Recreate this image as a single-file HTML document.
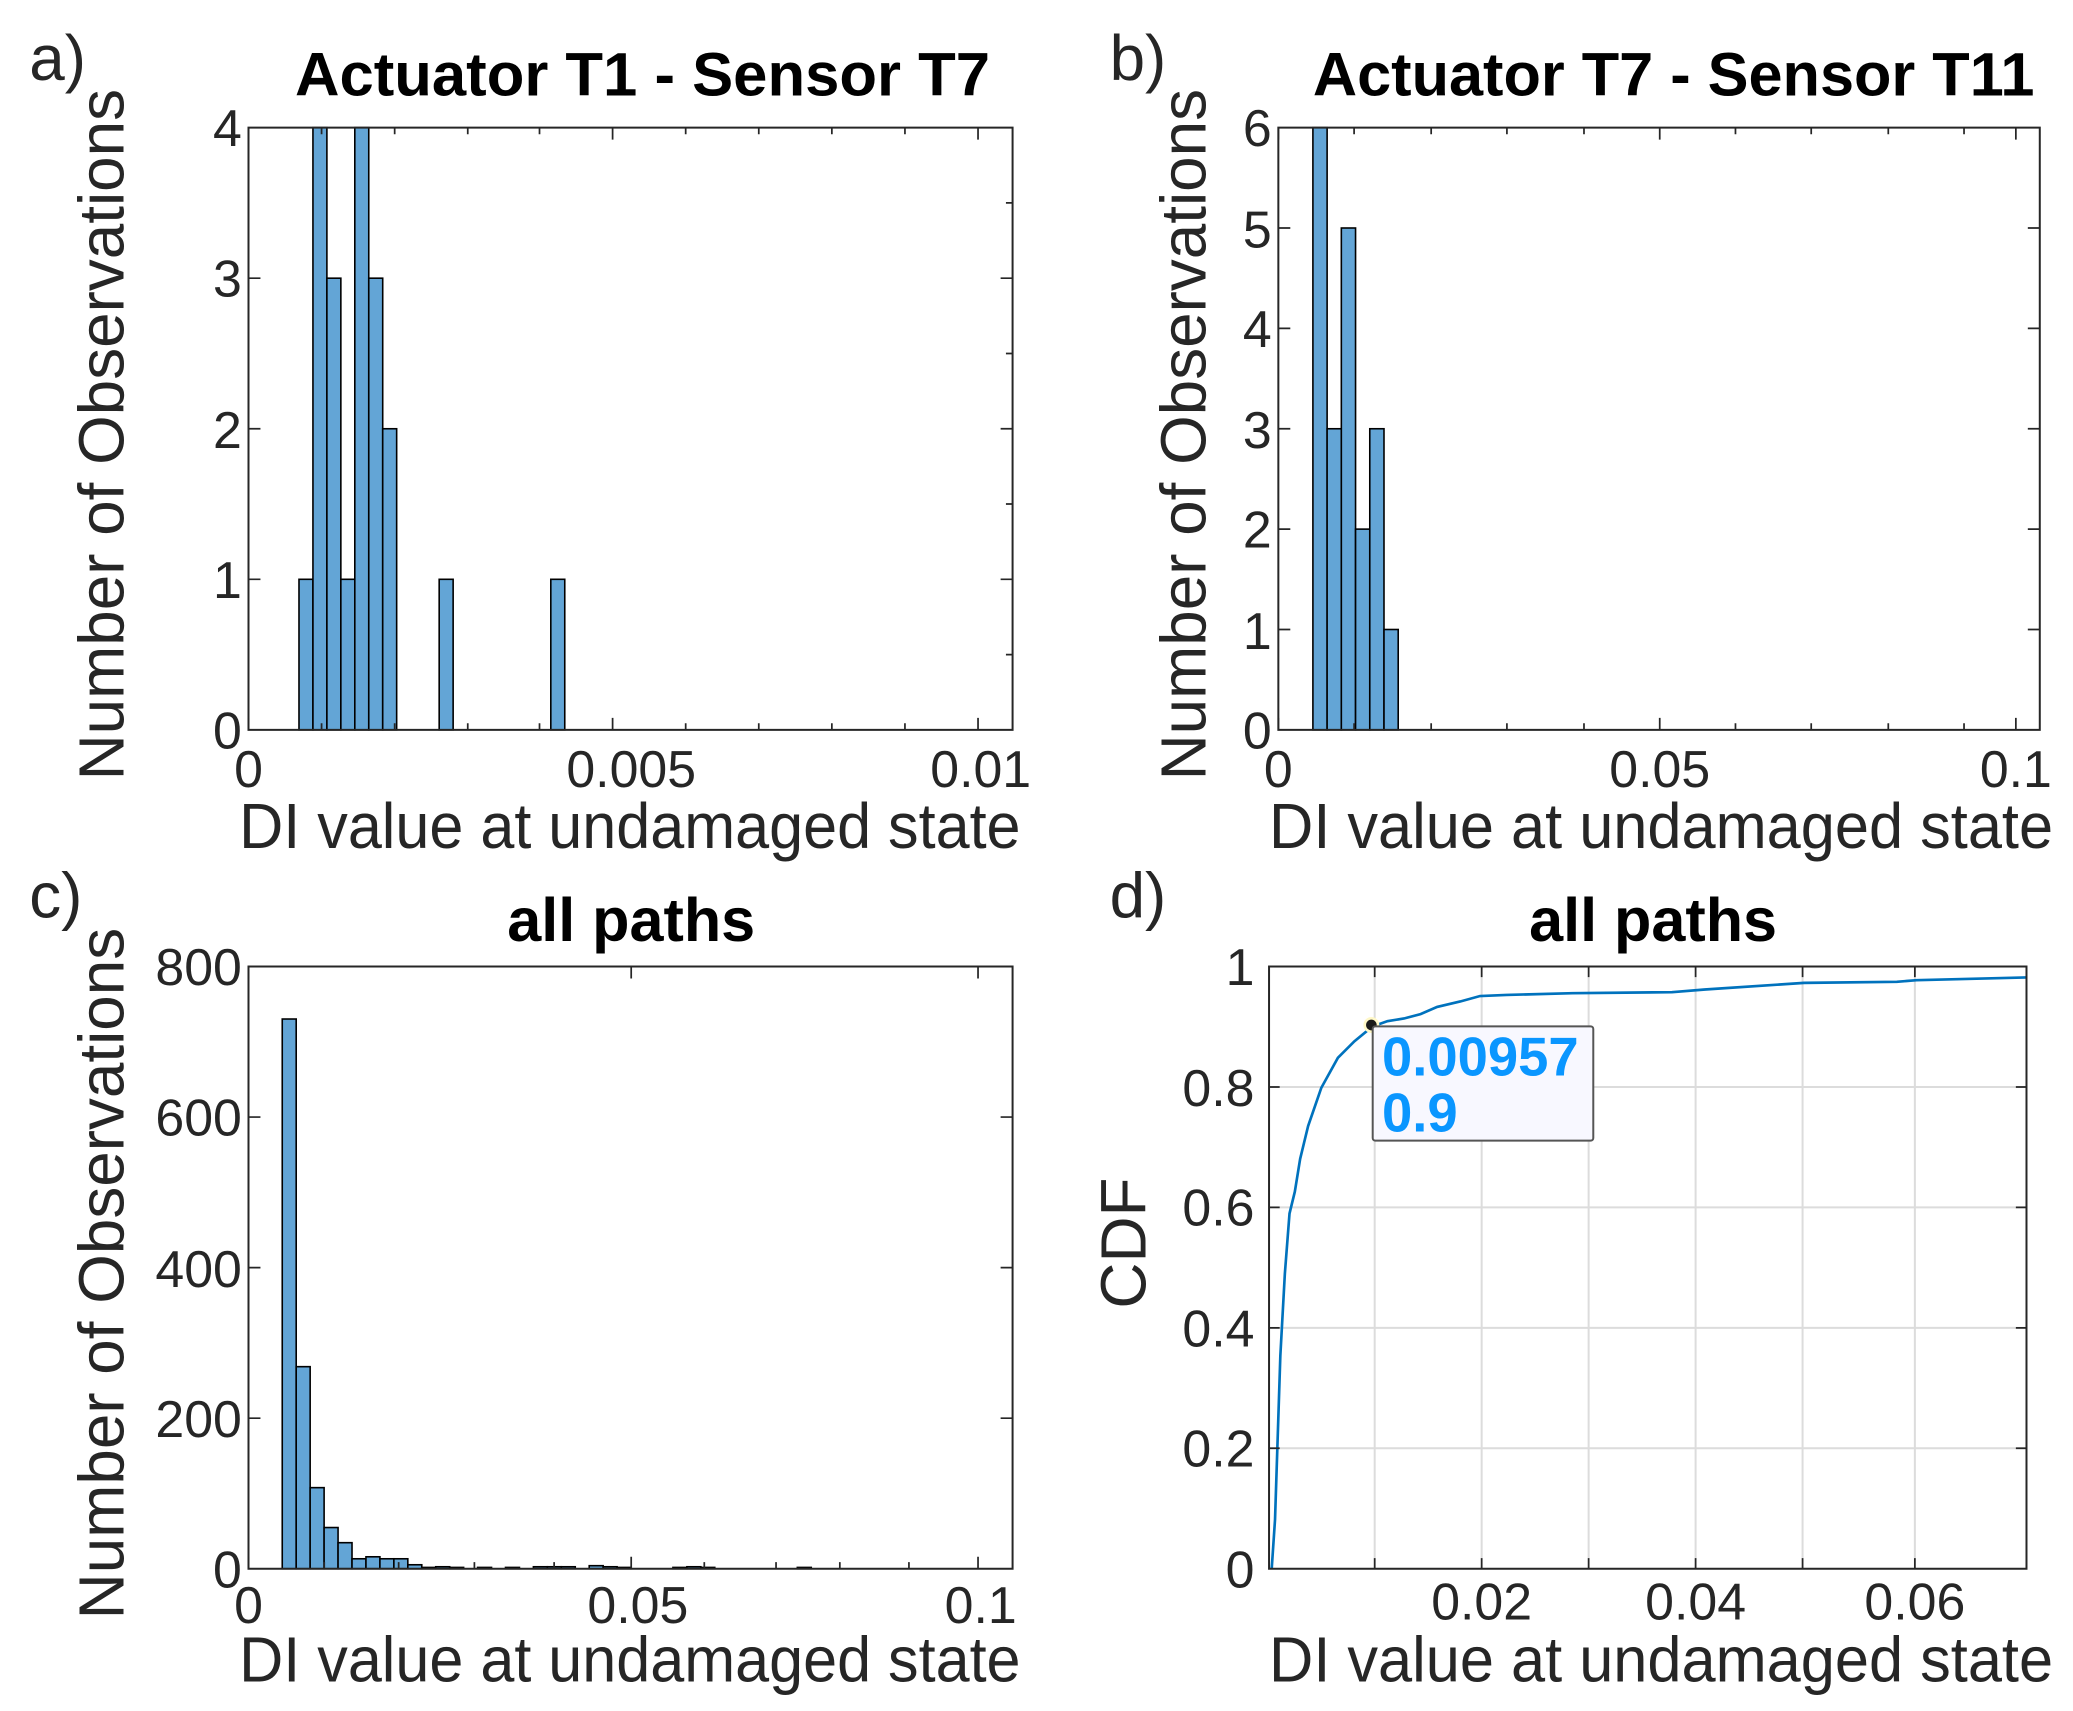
<!DOCTYPE html>
<html><head><meta charset="utf-8"><style>
html,body{margin:0;padding:0;background:#fff}
svg{display:block}
text{font-family:"Liberation Sans",sans-serif;fill:#262626}
.t{font-size:39px}
.l{font-size:48px}
.h{font-size:46px;font-weight:bold;fill:#000}
.bar{fill:#63a5d6;stroke:#000;stroke-width:1.2}
.ax{fill:none;stroke:#262626;stroke-width:1.5}
.tk{stroke:#262626;stroke-width:1.3}
.gr{stroke:#dcdcdc;stroke-width:1.5}
</style></head><body>
<svg width="2073" height="1711" viewBox="0 0 1560 1287" preserveAspectRatio="none" xmlns="http://www.w3.org/2000/svg">
<!-- Panel a -->
<text x="22" y="60" class="l">a)</text>
<text x="222" y="72" class="h" textLength="523" lengthAdjust="spacingAndGlyphs">Actuator T1 - Sensor T7</text>
<g class="bar">
<rect x="225" y="435.75" width="10.5" height="113.25"/>
<rect x="235.5" y="96" width="10.5" height="453"/>
<rect x="246" y="209.25" width="10.5" height="339.75"/>
<rect x="256.5" y="435.75" width="10.5" height="113.25"/>
<rect x="267" y="96" width="10.5" height="453"/>
<rect x="277.5" y="209.25" width="10.5" height="339.75"/>
<rect x="288" y="322.5" width="10.5" height="226.5"/>
<rect x="330.5" y="435.75" width="10.5" height="113.25"/>
<rect x="414.5" y="435.75" width="10.5" height="113.25"/>
</g>
<rect x="187" y="96" width="575" height="453" class="ax"/>
<g class="tk">
<path d="M187,549v-9M461,549v-9M736,549v-9M187,96v9M461,96v9M736,96v9"/>
<path d="M242,549v-5M297,549v-5M352,549v-5M406,549v-5M516,549v-5M571,549v-5M626,549v-5M681,549v-5M242,96v5M297,96v5M352,96v5M406,96v5M516,96v5M571,96v5M626,96v5M681,96v5"/>
<path d="M187,435.75h9M187,322.5h9M187,209.25h9M762,435.75h-9M762,322.5h-9M762,209.25h-9M762,492.4h-5M762,379.1h-5M762,265.9h-5M762,152.6h-5"/>
</g>
<g class="t" text-anchor="end">
<text x="182" y="563">0</text><text x="182" y="450">1</text><text x="182" y="337">2</text><text x="182" y="223">3</text><text x="182" y="110">4</text>
</g>
<g class="t" text-anchor="middle">
<text x="187" y="592">0</text><text x="475" y="592">0.005</text><text x="738" y="592">0.01</text>
</g>
<text x="180" y="638" class="l" textLength="588" lengthAdjust="spacingAndGlyphs">DI value at undamaged state</text>
<text transform="translate(93,327) rotate(-90)" class="l" text-anchor="middle">Number of Observations</text>

<!-- Panel b -->
<text x="835" y="60" class="l">b)</text>
<text x="988" y="72" class="h" textLength="543" lengthAdjust="spacingAndGlyphs">Actuator T7 - Sensor T11</text>
<g class="bar">
<rect x="988" y="96" width="10.7" height="453"/>
<rect x="998.7" y="322.5" width="10.7" height="226.5"/>
<rect x="1009.4" y="171.5" width="10.7" height="377.5"/>
<rect x="1020.1" y="398" width="10.7" height="151"/>
<rect x="1030.8" y="322.5" width="10.7" height="226.5"/>
<rect x="1041.5" y="473.5" width="10.7" height="75.5"/>
</g>
<rect x="962" y="96" width="573" height="453" class="ax"/>
<g class="tk">
<path d="M962,549v-9M1249,549v-9M1517,549v-9M962,96v9M1249,96v9M1517,96v9"/>
<path d="M1019,549v-5M1077,549v-5M1134,549v-5M1192,549v-5M1306,549v-5M1363,549v-5M1421,549v-5M1478,549v-5M1019,96v5M1077,96v5M1134,96v5M1192,96v5M1306,96v5M1363,96v5M1421,96v5M1478,96v5"/>
<path d="M962,473.5h9M962,398h9M962,322.5h9M962,247h9M962,171.5h9M1535,473.5h-9M1535,398h-9M1535,322.5h-9M1535,247h-9M1535,171.5h-9"/>
</g>
<g class="t" text-anchor="end">
<text x="957" y="563">0</text><text x="957" y="488">1</text><text x="957" y="412">2</text><text x="957" y="337">3</text><text x="957" y="261">4</text><text x="957" y="186">5</text><text x="957" y="110">6</text>
</g>
<g class="t" text-anchor="middle">
<text x="962" y="592">0</text><text x="1249" y="592">0.05</text><text x="1517" y="592">0.1</text>
</g>
<text x="955" y="638" class="l" textLength="590" lengthAdjust="spacingAndGlyphs">DI value at undamaged state</text>
<text transform="translate(907,327) rotate(-90)" class="l" text-anchor="middle">Number of Observations</text>

<!-- Panel c -->
<text x="22" y="690" class="l">c)</text>
<text x="475" y="708" class="h" text-anchor="middle">all paths</text>
<g class="bar">
<rect x="212.4" y="766.5" width="10.5" height="413.5"/>
<rect x="222.9" y="1028" width="10.5" height="152"/>
<rect x="233.4" y="1119" width="10.5" height="61"/>
<rect x="243.9" y="1149" width="10.5" height="31"/>
<rect x="254.4" y="1160.4" width="10.5" height="19.6"/>
<rect x="264.9" y="1172.5" width="10.5" height="7.5"/>
<rect x="275.4" y="1171" width="10.5" height="9"/>
<rect x="285.9" y="1172.5" width="10.5" height="7.5"/>
<rect x="296.4" y="1172.5" width="10.5" height="7.5"/>
<rect x="306.9" y="1177" width="10.5" height="3"/>
<rect x="317.4" y="1179" width="10.5" height="1"/>
<rect x="327.9" y="1178.5" width="10.5" height="1.5"/>
<rect x="338.4" y="1179" width="10.5" height="1"/>
<rect x="359.4" y="1179" width="10.5" height="1"/>
<rect x="380.4" y="1179" width="10.5" height="1"/>
<rect x="401.4" y="1178.5" width="10.5" height="1.5"/>
<rect x="411.9" y="1178.5" width="10.5" height="1.5"/>
<rect x="422.4" y="1178.5" width="10.5" height="1.5"/>
<rect x="443.4" y="1177.7" width="10.5" height="2.3"/>
<rect x="453.9" y="1178.5" width="10.5" height="1.5"/>
<rect x="464.4" y="1179" width="10.5" height="1"/>
<rect x="506.4" y="1179" width="10.5" height="1"/>
<rect x="516.9" y="1178.5" width="10.5" height="1.5"/>
<rect x="527.4" y="1179" width="10.5" height="1"/>
<rect x="600" y="1179" width="10.5" height="1"/>
</g>
<rect x="187" y="727" width="575" height="453" class="ax"/>
<g class="tk">
<path d="M187,1180v-9M475,1180v-9M736,1180v-9M187,727v9M475,727v9M736,727v9"/>
<path d="M244,1180v-5M300,1180v-5M357,1180v-5M417,1180v-5M530,1180v-5M584,1180v-5M632,1180v-5M684,1180v-5"/>
<path d="M187,1066.75h9M187,953.5h9M187,840.25h9M762,1066.75h-9M762,953.5h-9M762,840.25h-9"/>
</g>
<g class="t" text-anchor="end">
<text x="182" y="1194">0</text><text x="182" y="1081">200</text><text x="182" y="968">400</text><text x="182" y="854">600</text><text x="182" y="741">800</text>
</g>
<g class="t" text-anchor="middle">
<text x="187" y="1221">0</text><text x="480" y="1221">0.05</text><text x="738" y="1221">0.1</text>
</g>
<text x="180" y="1265" class="l" textLength="588" lengthAdjust="spacingAndGlyphs">DI value at undamaged state</text>
<text transform="translate(93,958) rotate(-90)" class="l" text-anchor="middle">Number of Observations</text>

<!-- Panel d -->
<text x="835" y="690" class="l">d)</text>
<text x="1244" y="708" class="h" text-anchor="middle">all paths</text>
<g class="gr">
<path d="M1034.5,727V1180M1115,727V1180M1195.5,727V1180M1276,727V1180M1356.5,727V1180M1441,727V1180"/>
<path d="M955,1089.4H1525M955,998.8H1525M955,908.2H1525M955,817.6H1525"/>
</g>
<polyline fill="none" stroke="#0072bd" stroke-width="2" points="957,1180 959.5,1143 963.5,1019.7 966.9,958 970.4,912.8 974.4,896.4 978.4,871.7 984.4,847 994.3,818.3 1006.8,795.7 1019.2,783.3 1032.7,772.2 1044.1,768.1 1056.6,766.1 1069,762.8 1081.5,757.4 1098.9,753.3 1113.8,749.2 1133.7,748.4 1183.5,747.1 1258.2,746.3 1283,744.3 1357.7,739.3 1427.4,738.5 1442.3,737.3 1525,735.2"/>
<rect x="955" y="727" width="570" height="453" class="ax"/>
<g class="tk">
<path d="M1034.5,1180v-8M1115,1180v-8M1195.5,1180v-8M1276,1180v-8M1356.5,1180v-8M1441,1180v-8M1034.5,727v8M1115,727v8M1195.5,727v8M1276,727v8M1356.5,727v8M1441,727v8"/>
<path d="M955,1089.4h8M955,998.8h8M955,908.2h8M955,817.6h8M1525,1089.4h-8M1525,998.8h-8M1525,908.2h-8M1525,817.6h-8"/>
</g>
<circle cx="1032" cy="771" r="6" fill="#fff8c8"/>
<circle cx="1032" cy="771" r="4" fill="#1a1a1a"/>
<rect x="1033" y="772" width="166" height="86" rx="2" fill="#f8f8ff" stroke="#555" stroke-width="1.5"/>
<text x="1040" y="809" textLength="148" lengthAdjust="spacingAndGlyphs" style="font-size:41px;font-weight:bold;fill:#0a96ff">0.00957</text>
<text x="1040" y="851" style="font-size:41px;font-weight:bold;fill:#0a96ff">0.9</text>
<g class="t" text-anchor="end">
<text x="944" y="1194">0</text><text x="944" y="1103">0.2</text><text x="944" y="1013">0.4</text><text x="944" y="922">0.6</text><text x="944" y="832">0.8</text><text x="944" y="741">1</text>
</g>
<g class="t" text-anchor="middle">
<text x="1115" y="1218">0.02</text><text x="1276" y="1218">0.04</text><text x="1441" y="1218">0.06</text>
</g>
<text x="955" y="1265" class="l" textLength="590" lengthAdjust="spacingAndGlyphs">DI value at undamaged state</text>
<text transform="translate(862,935) rotate(-90)" class="l" text-anchor="middle">CDF</text>
</svg>
</body></html>
